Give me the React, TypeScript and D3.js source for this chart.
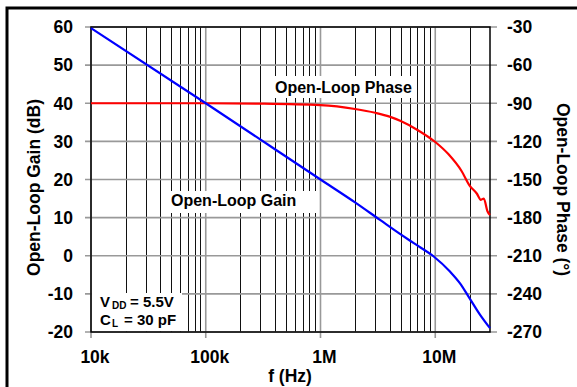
import React from 'react';
import * as d3 from 'd3';

// Open-loop gain (dB) vs frequency (Hz)
const gainFreq = [1e4, 1e5, 1e6, 2e6, 3.3e6, 5e6, 6.5e6, 9.7e6, 13.5e6, 16.5e6, 19.5e6, 24.6e6, 30e6];
const gainDb = [59.7, 40, 20, 14, 9.4, 5.6, 3.3, -0.2, -4.2, -7.3, -10.7, -15.5, -19];

// Open-loop phase (deg) vs frequency (Hz)
const phaseFreq = [1e4, 1e5, 3e5, 1e6, 2e6, 3e6, 4e6, 5e6, 7e6, 10e6, 13e6, 17e6, 20e6, 23e6, 25e6, 26.5e6, 28.5e6, 30e6];
const phaseDeg = [-90, -90, -90.3, -91.5, -94.5, -97.5, -100.5, -104, -111, -120.5, -130, -143.5, -155, -161, -166, -165, -175, -178];

const gainTicks = [60, 50, 40, 30, 20, 10, 0, -10, -20];
const phaseTicks = [-30, -60, -90, -120, -150, -180, -210, -240, -270];
const freqTicks = [1e4, 1e5, 1e6, 1e7];
const freqLabels = ['10k', '100k', '1M', '10M'];

const FONT = 'Arial, "Liberation Sans", sans-serif';

export default function App() {
  const m = { left: 91, right: 490, top: 27, bottom: 332 };

  const x = d3.scaleLog().domain([1e4, 3e7]).range([m.left, m.right]);
  const yG = d3.scaleLinear().domain([-20, 60]).range([m.bottom, m.top]);
  const yP = d3.scaleLinear().domain([-270, -30]).range([m.bottom, m.top]);

  // minor grid: 2..9 of each decade
  const minor: number[] = [];
  for (let d = 1e4; d < 3e7; d *= 10) {
    for (let k = 2; k <= 9; k++) {
      const v = d * k;
      if (v < 3e7) minor.push(v);
    }
  }

  const gainLine = d3.line<number>()
    .x((_, i) => x(gainFreq[i]))
    .y((d) => yG(d))
    .curve(d3.curveMonotoneX);
  const phaseLine = d3.line<number>()
    .x((_, i) => x(phaseFreq[i]))
    .y((d) => yP(d))
    .curve(d3.curveMonotoneX);

  const midY = (m.top + m.bottom) / 2;

  return (
    <svg width={577} height={387} style={{ position: 'absolute', left: 0, top: 0, background: '#fff' }}
      fontFamily={FONT} fontWeight="bold">
      <rect x={7} y={8} width={600} height={400} fill="#fff" stroke="#000" strokeWidth={3} />

      {/* grid */}
      {minor.map((v) => (
        <line key={'mn' + v} x1={Math.round(x(v)) + 0.5} x2={Math.round(x(v)) + 0.5} y1={m.top} y2={m.bottom} stroke="#111" strokeWidth={1} />
      ))}
      {freqTicks.map((v) => (
        <line key={'mj' + v} x1={x(v)} x2={x(v)} y1={m.top} y2={m.bottom + 6} stroke="#999" strokeWidth={1.6} />
      ))}
      {gainTicks.map((v) => (
        <line key={'hg' + v} x1={m.left - 6} x2={m.right + 7} y1={yG(v)} y2={yG(v)} stroke="#999" strokeWidth={1.6} />
      ))}

      {/* in-plot label backgrounds */}
      <rect x={272} y={76} width={144} height={22} fill="#fff" />
      <rect x={168} y={191} width={150} height={22} fill="#fff" />
      <rect x={92} y={293} width={90} height={38} fill="#fff" />

      {/* frame */}
      <rect x={m.left} y={m.top} width={m.right - m.left} height={m.bottom - m.top} fill="none" stroke="#000" strokeWidth={1.5} />

      {/* curves */}
      <path d={phaseLine(phaseDeg) || ''} fill="none" stroke="#ff0000" strokeWidth={2.2} />
      <path d={gainLine(gainDb) || ''} fill="none" stroke="#0000ff" strokeWidth={2.2} />

      {/* tick labels */}
      {gainTicks.map((v) => (
        <text key={'lg' + v} x={73} y={yG(v)} dy="0.36em" textAnchor="end" fontSize={17.5}>{v}</text>
      ))}
      {phaseTicks.map((v) => (
        <text key={'lp' + v} x={507} y={yP(v)} dy="0.36em" textAnchor="start" fontSize={17.5}>{v}</text>
      ))}
      {freqTicks.map((v, i) => (
        <text key={'lf' + v} x={x(v) + 4} y={363} textAnchor="middle" fontSize={17.5}>{freqLabels[i]}</text>
      ))}

      {/* axis titles */}
      <text x={290} y={382} textAnchor="middle" fontSize={17.5}>f (Hz)</text>
      <text transform={`translate(40,${midY + 8}) rotate(-90)`} textAnchor="middle" fontSize={17.5}>Open-Loop Gain (dB)</text>
      <text transform={`translate(557,${midY + 10}) rotate(90)`} textAnchor="middle" fontSize={17.5}>Open-Loop Phase (°)</text>

      {/* curve labels */}
      <text x={275} y={93} fontSize={16}>Open-Loop Phase</text>
      <text x={171} y={206} fontSize={16}>Open-Loop Gain</text>

      {/* conditions */}
      <text x={100} y={307} fontSize={15}>V</text>
      <text x={112} y={309} fontSize={10}>DD</text>
      <text x={130} y={307} fontSize={15}>= 5.5V</text>
      <text x={100} y={325} fontSize={15}>C</text>
      <text x={112} y={327} fontSize={10}>L</text>
      <text x={124} y={325} fontSize={15}>= 30 pF</text>
    </svg>
  );
}
